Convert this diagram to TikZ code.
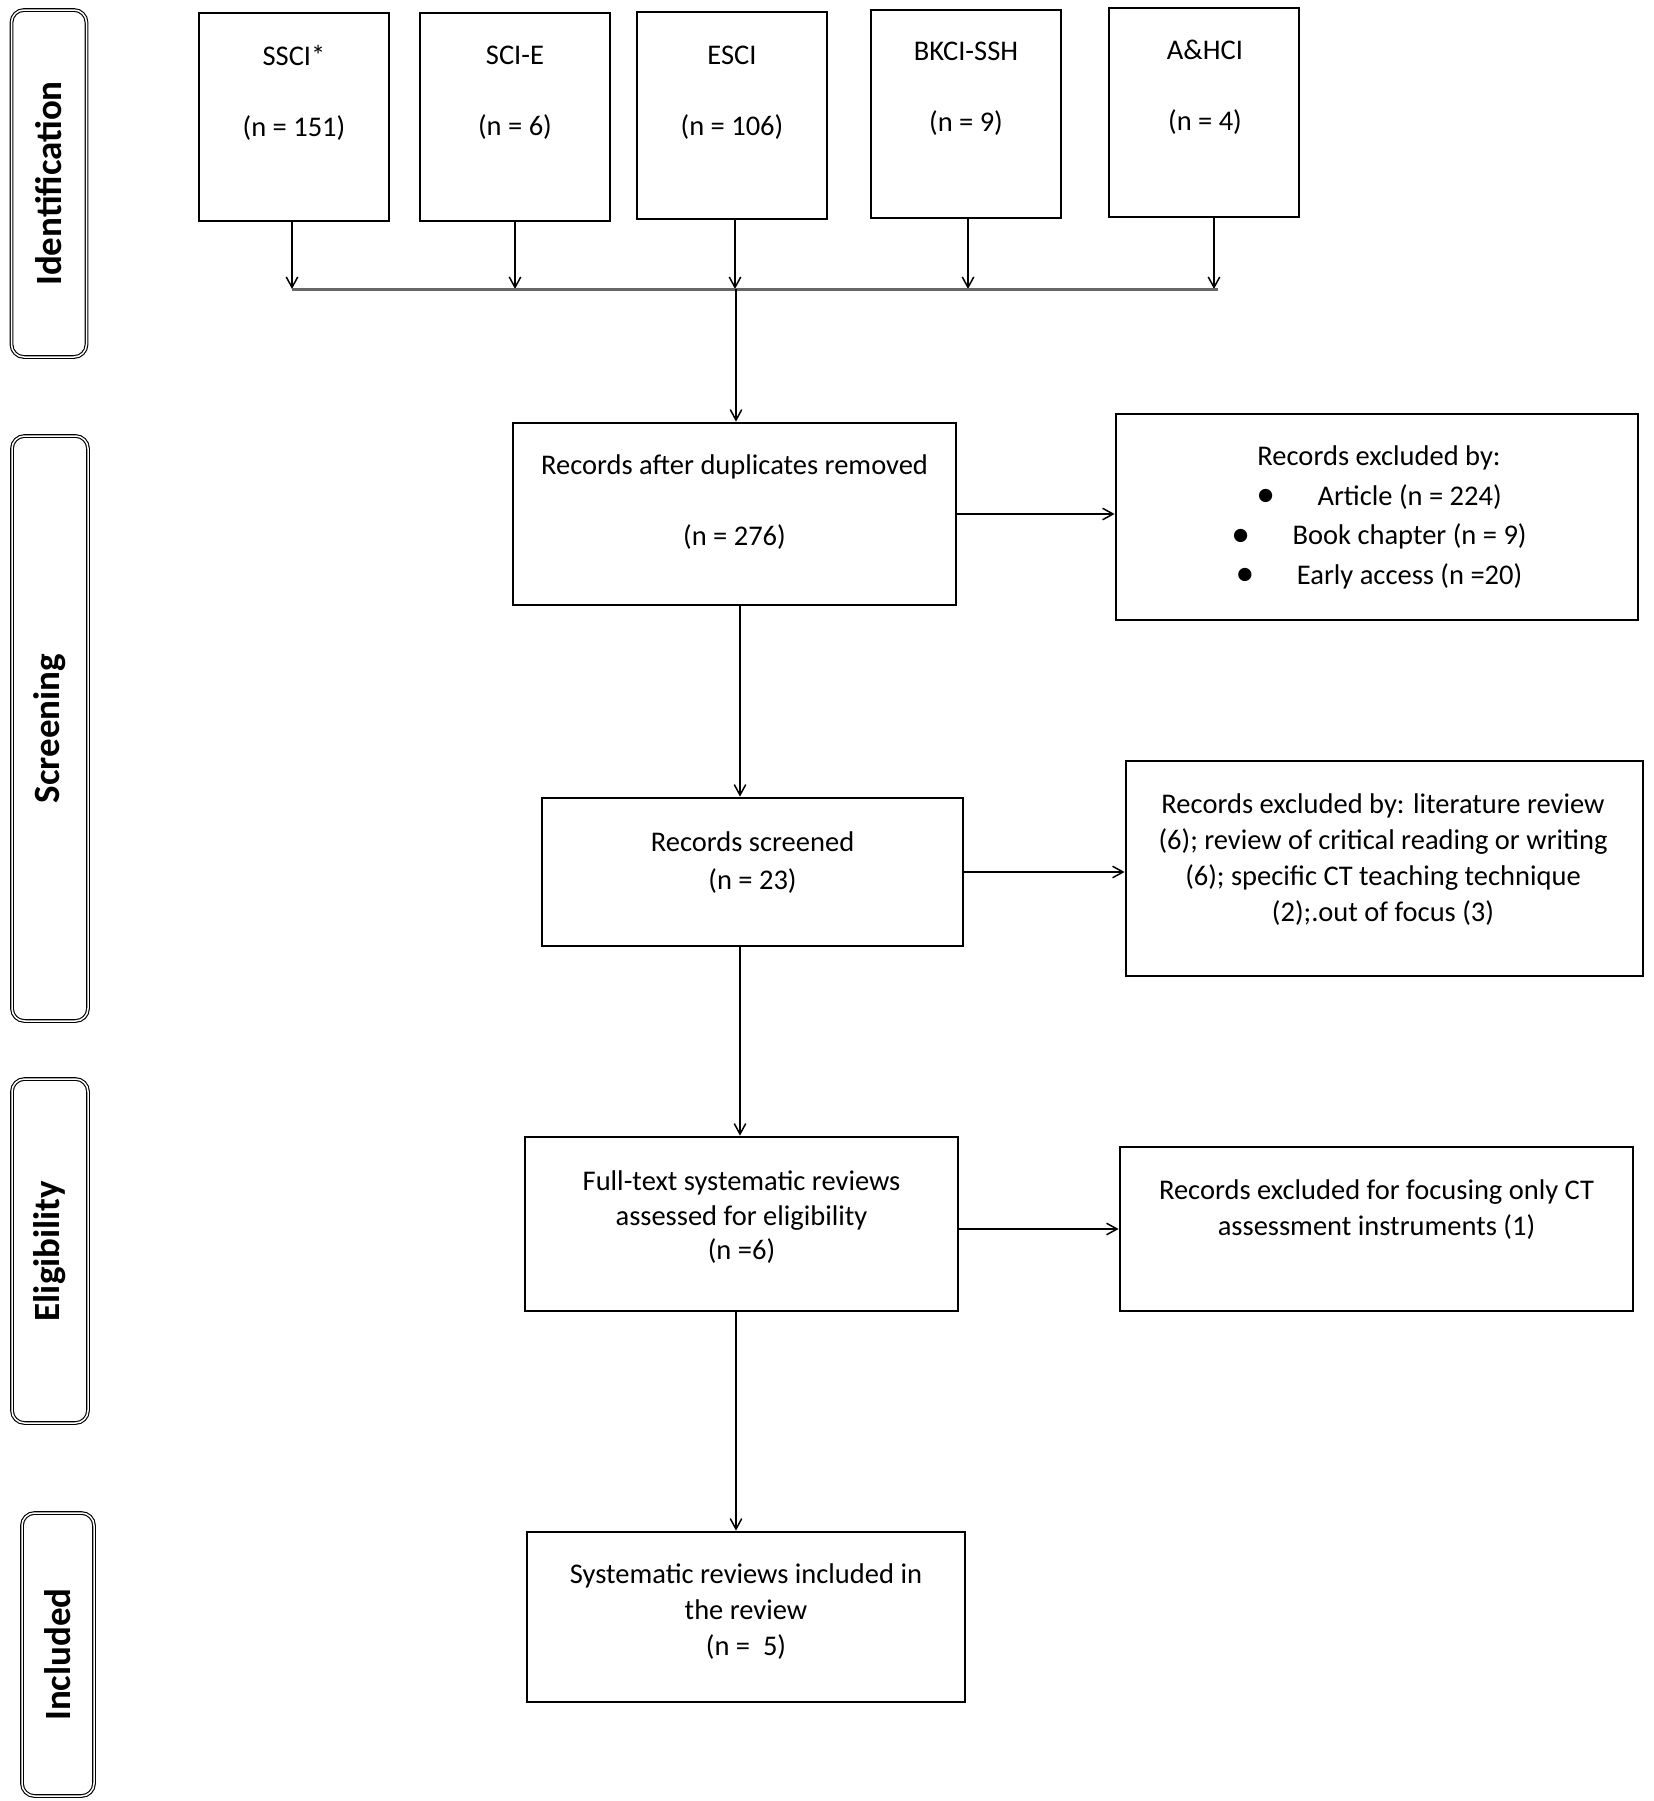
\documentclass[tikz,border=0pt]{standalone}
\usepackage{fontspec}
\setmainfont{Carlito}
\usetikzlibrary{arrows.meta}
\newcommand\bigbul{\raisebox{-0.5pt}{\fontsize{15}{15}\selectfont\textbullet}}
\begin{document}
\begin{tikzpicture}[x=0.4pt,y=-0.4pt,
  sz/.style 2 args={minimum width=#1*0.4pt, minimum height=#2*0.4pt},
  box/.style={draw, line width=1.1pt, inner sep=0pt},
  sidebox/.style={draw, double, line width=0.45pt, double distance=0.6pt, rounded corners=5pt, inner sep=0pt},
  sidelabel/.style={rotate=90, inner sep=0pt, font=\fontsize{14.8}{16}\selectfont\bfseries},
  txt/.style={inner sep=0pt, align=center, font=\fontsize{11.4}{#1}\selectfont},
  txt/.default=14.4pt,
  arr/.style={line width=0.6pt, -{Straight Barb[length=4.2pt,width=4.6pt]}},
  bus/.style={line width=1.2pt, black!60}
]
\useasboundingbox (0,0) rectangle (1654,1801);

% phase boxes
\node[sidebox, sz={75}{347}] (idb) at (49,183.5) {};
\node[sidelabel] (idl) at (idb.center) {Identification};
\node[sidebox, sz={76}{585}] (scb) at (50,728.5) {};
\node[sidelabel] (scl) at (scb.center) {Screening};
\node[sidebox, sz={76}{344}] (elb) at (50,1251) {};
\node[sidelabel] (ell) at (elb.center) {Eligibility};
\node[sidebox, sz={72}{283}] (inb) at (58,1654.5) {};
\node[sidelabel] (inl) at (inb.center) {Included};

% source boxes
\node[box, sz={190}{208}] (ssci) at (294,117) {};
\node[txt=28.4pt] (tssci) at (294,92.5) {SSCI*\\(n = 151)};
\node[box, sz={190}{208}] (scie) at (515,117) {};
\node[txt=28.4pt] (tscie) at (515,92.5) {SCI-E\\(n = 6)};
\node[box, sz={190}{207}] (esci) at (732,115.5) {};
\node[txt=28.4pt] (tesci) at (732,92.5) {ESCI\\(n = 106)};
\node[box, sz={190}{208}] (bkci) at (966,114) {};
\node[txt=28.4pt] (tbkci) at (966,89) {BKCI-SSH\\(n = 9)};
\node[box, sz={190}{209}] (ahci) at (1204,112.5) {};
\node[txt=28.4pt] (tahci) at (1205,87.5) {A\&HCI\\(n = 4)};

% bus coordinates
\coordinate (b1) at (292,289);
\coordinate (b2) at (515,289);
\coordinate (b3) at (735,289);
\coordinate (b4) at (968,289);
\coordinate (b5) at (1214,289);
\coordinate (bend) at (1218,289);
\coordinate (bj) at (736,289);
\coordinate (c1) at (740,0);
\coordinate (c2) at (736,0);

% main flow boxes
\node[box, sz={443}{182}] (dup) at (734.5,514) {};
\node[txt=28.4pt] (tdup) at (734.5,502.5) {Records after duplicates removed\\(n = 276)};
\node[box, sz={522}{206}] (ex1) at (1377,517) {};
\node[txt=15.9pt] (tex1) at (1379,517.5) {Records excluded by:\\
  \bigbul\hspace{17pt}Article (n = 224)\\
  \bigbul\hspace{17pt}Book chapter (n = 9)\\
  \bigbul\hspace{17pt}Early access (n =20)};

\node[box, sz={421}{148}] (scr) at (752.5,872) {};
\node[txt=15.2pt] (tscr) at (752.5,863) {Records screened\\(n = 23)};
\node[box, sz={517}{215}] (ex2) at (1384.5,868.5) {};
\node[txt=14.3pt] (tex2) at (1383,859.5) {Records excluded by: literature review\\(6); review of critical reading or writing\\(6); specific CT teaching technique\\(2);.out of focus (3)};

\node[box, sz={433}{174}] (full) at (741.5,1224) {};
\node[txt=13.8pt] (tfull) at (741.5,1217.5) {Full-text systematic reviews\\assessed for eligibility\\(n =6)};
\node[box, sz={513}{164}] (ex3) at (1376.5,1229) {};
\node[txt=14.4pt] (tex3) at (1376.5,1210) {Records excluded for focusing only CT\\assessment instruments (1)};

\node[box, sz={438}{170}] (inc) at (746,1617) {};
\node[txt=14.4pt] (tinc) at (746,1612) {Systematic reviews included in\\the review\\(n =~~5)};

% connectors: sources to bus
\draw[arr] (ssci.south -| b1) -- (b1);
\draw[arr] (scie.south -| b2) -- (b2);
\draw[arr] (esci.south -| b3) -- (b3);
\draw[arr] (bkci.south -| b4) -- (b4);
\draw[arr] (ahci.south -| b5) -- (b5);
\draw[bus] (b1) -- (bend);
\draw[arr] (bj) -- (bj |- dup.north);

% main flow
\draw[arr] (dup.south -| c1) -- (scr.north -| c1);
\draw[arr] (scr.south -| c1) -- (full.north -| c1);
\draw[arr] (full.south -| c2) -- (inc.north -| c2);

% exclusions
\draw[arr] (dup.east) -- (dup.east -| ex1.west);
\draw[arr] (scr.east) -- (scr.east -| ex2.west);
\draw[arr] (ex3.west -| full.east) -- (ex3.west);
\end{tikzpicture}
\end{document}
